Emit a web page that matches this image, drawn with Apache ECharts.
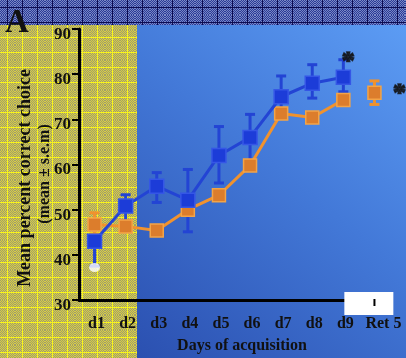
<!DOCTYPE html>
<html>
<head>
<meta charset="utf-8">
<script src="https://cdn.jsdelivr.net/npm/echarts@6/dist/echarts.min.js"></script>
<style>
  html, body { margin: 0; padding: 0; background: #ffffff; }
  #chart { width: 406px; height: 358px; }
</style>
</head>
<body>
<div id="chart"></div>
<script>
// Days on the x axis
const days = ['d1', 'd2', 'd3', 'd4', 'd5', 'd6', 'd7', 'd8', 'd9', 'Ret 5'];

// Blue group: acquisition means and error-bar ends (no retention point)
const blueMean = [43.0, 50.8, 55.2, 52.1, 62.0, 66.0, 75.0, 78.0, 79.3, null];
const blueLow  = [37.5, 47.5, 51.6, 45.1, 55.9, 60.5, 71.5, 74.7, 76.1, null];
const blueHigh = [47.5, 53.3, 58.2, 58.9, 68.4, 71.1, 79.6, 82.1, 83.2, null];

// Orange group: acquisition means (d1-d9) and the retention test value
const orangeMean = [46.7, 46.3, 45.4, 50.0, 53.2, 59.8, 71.3, 70.4, 74.3];
const orangeRetention = 75.9;
const orangeLow  = [44.6, 45.3, 44.4, 49.0, 52.2, 58.8, 70.3, 69.4, 73.3, 73.3];
const orangeHigh = [49.3, 47.3, 46.4, 51.0, 54.2, 60.8, 72.3, 71.4, 75.3, 78.5];

// Significance markers
const starPoints = [['d9', 84.2], ['Ret 5', 77.2]];
// Light cap below the first blue error bar
const whiteCap = [['d1', 37.2]];

// y axis range
const yMin = 30, yMax = 90, yStep = 10;

const serif = 'Liberation Serif';

// Textured fills for the backdrop panels
function makePattern(size, draw) {
  const c = document.createElement('canvas');
  c.width = size; c.height = size;
  draw(c.getContext('2d'), size);
  return c;
}
const yellowTile = makePattern(15, (ctx, s) => {
  for (let y = 0; y < s; y++) for (let x = 0; x < s; x++) {
    ctx.fillStyle = (x + y) % 2 ? '#dcd23e' : '#9c9a72';
    ctx.fillRect(x, y, 1, 1);
  }
  ctx.fillStyle = '#f8f41c';
  ctx.fillRect(7, 0, 1, s);
  ctx.fillRect(0, 7, s, 1);
});
const navyTile = makePattern(15, (ctx, s) => {
  for (let y = 0; y < s; y++) for (let x = 0; x < s; x++) {
    ctx.fillStyle = (x + y) % 2 ? '#2a3a98' : '#7a88c4';
    ctx.fillRect(x, y, 1, 1);
  }
  ctx.fillStyle = '#0c0c52';
  ctx.fillRect(7, 0, 1, s);
  ctx.fillRect(0, 7, s, 1);
});

// Error bars with caps, drawn through the axis scales
function errorBars(color, lineW, capW) {
  return function (params, api) {
    const i = api.value(0);
    const pLow = api.coord([i, api.value(1)]);
    const pHigh = api.coord([i, api.value(2)]);
    const st = { stroke: color, lineWidth: lineW };
    return {
      type: 'group',
      children: [
        { type: 'line', shape: { x1: pLow[0], y1: pLow[1], x2: pHigh[0], y2: pHigh[1] }, style: st },
        { type: 'line', shape: { x1: pLow[0] - capW / 2, y1: pLow[1], x2: pLow[0] + capW / 2, y2: pLow[1] }, style: st },
        { type: 'line', shape: { x1: pHigh[0] - capW / 2, y1: pHigh[1], x2: pHigh[0] + capW / 2, y2: pHigh[1] }, style: st }
      ]
    };
  };
}
function barData(low, high) {
  const out = [];
  low.forEach((v, i) => { if (v != null && high[i] != null) out.push([i, v, high[i]]); });
  return out;
}

function label(text, size, extra) {
  return Object.assign({ text: text, fontFamily: serif, fontWeight: 'bold', fontSize: size, fill: '#111' }, extra || {});
}

const chart = echarts.init(document.getElementById('chart'), null, { renderer: 'canvas' });

const BLUE = '#1c3cd8', BLUE_LINE = '#2344d4', ORANGE = '#dc7d2c', ORANGE_LINE = '#f0922e';
const tickText = { fontFamily: serif, fontWeight: 'bold', fontSize: 16, color: '#111' };

chart.setOption({
  animation: false,
  backgroundColor: '#ffffff',
  grid: { left: 79, top: 29, right: 16, bottom: 58 },
  xAxis: {
    type: 'category',
    data: days,
    boundaryGap: true,
    axisLine: { lineStyle: { color: '#000', width: 3 } },
    axisTick: { alignWithLabel: true, interval: 0, length: 6, lineStyle: { color: '#000', width: 2 } },
    axisLabel: Object.assign({
      interval: 0, margin: 16,
      formatter: v => v === 'Ret 5' ? '{r|' + v + '}' : '{d|' + v + '}',
      rich: {
        d: Object.assign({ padding: [0, 0, 0, 4] }, tickText),
        r: Object.assign({ padding: [0, 0, 0, 18] }, tickText)
      }
    }, tickText),
    splitLine: { show: false }
  },
  yAxis: {
    type: 'value',
    min: yMin, max: yMax, interval: yStep,
    axisLine: { show: true, lineStyle: { color: '#000', width: 3 } },
    axisTick: { show: true, length: 7, lineStyle: { color: '#000', width: 2 } },
    axisLabel: {
      margin: 8, color: '#111', fontFamily: serif, fontWeight: 'bold', fontSize: 17,
      formatter: v => '{v|' + v + '}',
      rich: { v: { fontFamily: serif, fontWeight: 'bold', fontSize: 17, color: '#111', padding: [11, 0, 0, 0] } }
    },
    splitLine: { show: false }
  },
  graphic: [
    { type: 'rect', z: -20, silent: true, shape: { x: 0, y: 0, width: 406, height: 25 }, style: { fill: { image: navyTile, repeat: 'repeat' } } },
    { type: 'rect', z: -20, silent: true, shape: { x: 0, y: 25, width: 137, height: 333 }, style: { fill: { image: yellowTile, repeat: 'repeat' } } },
    { type: 'rect', z: -20, silent: true, shape: { x: 137, y: 25, width: 269, height: 333 },
      style: { fill: { type: 'linear', x: 1, y: 0, x2: 0, y2: 1, colorStops: [
        { offset: 0, color: '#5c9cf4' }, { offset: 0.45, color: '#4379d8' }, { offset: 1, color: '#2b50b0' } ] } } },
    { type: 'text', z: 50, x: 5, y: 23, style: label('A', 33, { verticalAlign: 'middle' }) },
    { type: 'text', z: 50, x: 25, y: 178, rotation: Math.PI / 2,
      style: label('Mean percent correct choice', 18, { align: 'center', verticalAlign: 'middle' }) },
    { type: 'text', z: 50, x: 45, y: 174, rotation: Math.PI / 2,
      style: label('(mean \u00b1 s.e.m)', 16, { align: 'center', verticalAlign: 'middle' }) },
    { type: 'text', z: 50, x: 242, y: 346,
      style: label('Days of acquisition', 16, { align: 'center', verticalAlign: 'middle' }) }
  ],
  series: [
    {
      type: 'custom', name: 'blueErr', z: 2, renderItem: errorBars(BLUE_LINE, 3, 10),
      encode: { x: 0, y: [1, 2] }, data: barData(blueLow, blueHigh)
    },
    {
      type: 'line', name: 'orange', z: 3, data: orangeMean.concat([null]),
      symbol: 'rect', symbolSize: 13, lineStyle: { color: ORANGE_LINE, width: 3 },
      itemStyle: { color: ORANGE, borderColor: '#f3a447', borderWidth: 1.5 }
    },
    {
      type: 'line', name: 'orangeRet', z: 3, data: days.map((d, i) => i === days.length - 1 ? orangeRetention : null),
      symbol: 'rect', symbolSize: 13, lineStyle: { width: 0 },
      itemStyle: { color: ORANGE, borderColor: '#f3a447', borderWidth: 1.5 }
    },
    {
      type: 'custom', name: 'orangeErr', z: 2.5, renderItem: errorBars(ORANGE_LINE, 3, 10),
      encode: { x: 0, y: [1, 2] }, data: barData(orangeLow, orangeHigh)
    },
    {
      type: 'line', name: 'blue', z: 4, data: blueMean,
      symbol: 'rect', symbolSize: 14, lineStyle: { color: BLUE_LINE, width: 3 },
      itemStyle: { color: BLUE, borderColor: '#3556e6', borderWidth: 1.5 }
    },
    {
      type: 'scatter', name: 'cap', z: 5, data: whiteCap, symbol: 'circle', symbolSize: [11, 9],
      itemStyle: { color: '#ffffff' }
    },
    {
      type: 'scatter', name: 'stars', z: 6, clip: false, symbolSize: 0,
      data: [
        { value: starPoints[0], label: { offset: [5, 7] } },
        { value: starPoints[1], label: { offset: [25, 7] } }
      ],
      label: {
        show: true, formatter: '*', color: '#111', fontFamily: serif, fontWeight: 'bold', fontSize: 26,
        textBorderColor: '#111', textBorderWidth: 1.5, position: 'inside'
      },
      emphasis: { disabled: true }
    }
  ]
});

// White patch over the end of the x axis, with the retention tick showing through
(function () {
  const pD9 = chart.convertToPixel({ xAxisIndex: 0 }, 'd9');
  const pRet = chart.convertToPixel({ xAxisIndex: 0 }, 'Ret 5');
  const axisY = chart.convertToPixel({ yAxisIndex: 0 }, yMin);
  chart.setOption({
    graphic: [
      {}, {}, {}, {}, {}, {}, {},
      { type: 'rect', z: 60, silent: true, shape: { x: pD9 + 1, y: axisY - 8, width: 49, height: 23 }, style: { fill: '#ffffff' } },
      { type: 'line', z: 61, silent: true, shape: { x1: pRet, y1: axisY - 1, x2: pRet, y2: axisY + 6 }, style: { stroke: '#000', lineWidth: 2 } }
    ]
  });
})();
</script>
</body>
</html>
